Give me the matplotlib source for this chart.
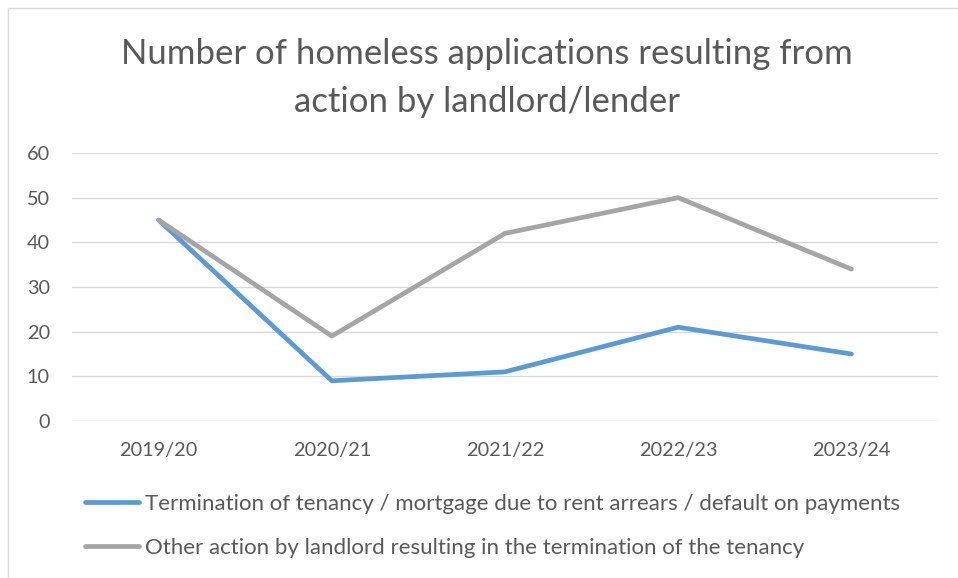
import matplotlib
matplotlib.use("Agg")
import matplotlib.pyplot as plt
from matplotlib.lines import Line2D
from matplotlib.patches import Rectangle

categories = ["2019/20", "2020/21", "2021/22", "2022/23", "2023/24"]
termination_arrears = [45, 9, 11, 21, 15]
other_action = [45, 19, 42, 50, 34]
series_labels = [
    "Termination of tenancy / mortgage due to rent arrears / default on payments",
    "Other action by landlord resulting in the termination of the tenancy",
]
title = "Number of homeless applications resulting from\naction by landlord/lender"
y_ticks = [0, 10, 20, 30, 40, 50, 60]

BLUE = "#5B9BD5"
GRAY = "#A5A5A5"
TEXT = "#595959"
GRID = "#D9D9D9"

plt.rcParams['font.family'] = ['Lato', 'DejaVu Sans']

W, H = 958, 578
fig = plt.figure(figsize=(W / 100, H / 100), dpi=100)
fig.patch.set_facecolor("white")

# chart border (cropped on right/bottom)
fig.patches.append(Rectangle((8 / W, -0.1), 1.2, 1 - 8 / H + 0.1, transform=fig.transFigure,
                             fill=False, edgecolor=GRID, linewidth=1.0))

left, right, top, bottom = 72, 938, 153, 421
ax = fig.add_axes([left / W, 1 - bottom / H, (right - left) / W, (bottom - top) / H])
x = list(range(len(categories)))
ax.plot(x, termination_arrears, color=BLUE, linewidth=3.4, solid_capstyle="round",
        solid_joinstyle="round", zorder=3)
ax.plot(x, other_action, color=GRAY, linewidth=3.4, solid_capstyle="round",
        solid_joinstyle="round", zorder=3)
ax.set_xlim(-0.5, len(categories) - 0.5)
ax.set_ylim(0, 60)
ax.set_yticks(y_ticks)
ax.set_xticks(x)
ax.set_xticklabels(categories)
ax.grid(axis="y", color=GRID, linewidth=1.0)
ax.set_axisbelow(True)
for s in ax.spines.values():
    s.set_visible(False)
ax.tick_params(axis="both", length=0, labelsize=14.3, labelcolor=TEXT)
ax.tick_params(axis="x", pad=15)
ax.tick_params(axis="y", pad=16)
for lab in ax.get_yticklabels():
    lab.set_clip_on(False)

fig.text(487 / W, 1 - 78 / H, title, ha="center", va="center", fontsize=25,
         color=TEXT, linespacing=1.6)

handles = [Line2D([], [], color=BLUE, linewidth=3.4, solid_capstyle="round"),
           Line2D([], [], color=GRAY, linewidth=3.4, solid_capstyle="round")]
fig.legend(handles, series_labels, loc="center left", bbox_to_anchor=(85 / W, 1 - 526 / H),
           frameon=False, fontsize=16, labelcolor=TEXT, handlelength=2.45,
           handletextpad=0.25, labelspacing=1.07, borderpad=0, borderaxespad=0)

fig.savefig("out.png", dpi=100, facecolor="white")
